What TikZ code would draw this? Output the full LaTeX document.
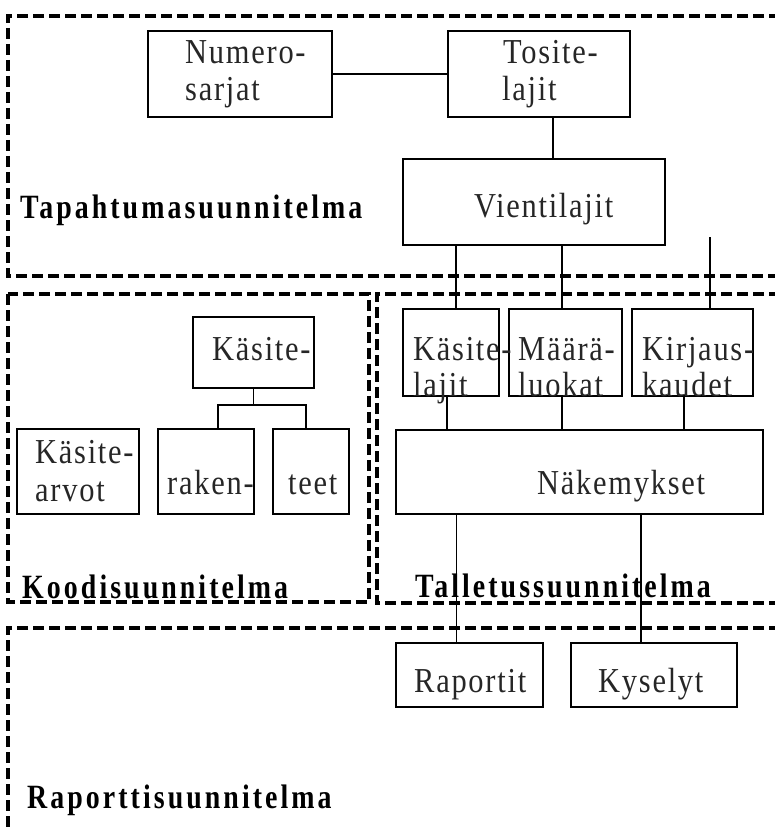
\documentclass[tikz,border=0pt]{standalone}
\usepackage{fontspec}
\setmainfont{Liberation Serif}
\newfontfamily\boxfontfam[LetterSpace=5,FakeStretch=0.87]{Liberation Serif}
\newcommand\boxfont{\boxfontfam\fontsize{35}{40}\selectfont}
\newfontfamily\labfontfam[LetterSpace=9,FakeStretch=0.82]{Liberation Serif}
\newcommand\labfont{\labfontfam\bfseries\fontsize{34}{40}\selectfont}
\tikzset{
  box/.style={draw, line width=1.5, inner sep=0, outer sep=0},
  txt/.style={anchor=base west, inner sep=0, font=\boxfont, text=black!85},
  lab/.style={anchor=base west, inner sep=0, font=\labfont},
  frame/.style={line width=3.2, dash pattern=on 11 off 5},
  link/.style={line width=1.5}
}
\begin{document}
\begin{tikzpicture}[x=1pt,y=-1pt]
\useasboundingbox (0,0) rectangle (775,829);
% frames
\draw[frame] (780,16) -- (8,16) -- (8,276) -- (780,276);
\draw[frame] (8,294) rectangle (369,602);
\draw[frame] (780,294) -- (377,294) -- (377,603) -- (780,603);
\draw[frame] (780,628) -- (8,628) -- (8,840);
% boxes
\node[box, minimum width=184, minimum height=86] (numero) at (240,74) {};
\node[box, minimum width=182, minimum height=86] (tosite) at (539,74) {};
\node[box, minimum width=262, minimum height=86] (vient) at (534,202) {};
\node[box, minimum width=121, minimum height=71] (kasy) at (253.5,352.5) {};
\node[box, minimum width=122, minimum height=85] (karv) at (78,471.5) {};
\node[box, minimum width=96, minimum height=85] (raken) at (206,471.5) {};
\node[box, minimum width=76, minimum height=85] (teet) at (311,471.5) {};
\node[box, minimum width=96, minimum height=87] (kasl) at (451,352.5) {};
\node[box, minimum width=113, minimum height=87] (maar) at (565.5,352.5) {};
\node[box, minimum width=121, minimum height=87] (kirj) at (692.5,352.5) {};
\node[box, minimum width=367, minimum height=84] (nak) at (579.5,472) {};
\node[box, minimum width=147, minimum height=64] (rap) at (469.5,675) {};
\node[box, minimum width=166, minimum height=64] (kys) at (654,675) {};
% texts
\node[txt] (t1a) at (185,64) {Numero-};
\node[txt] (t1b) at (185,101) {sarjat};
\node[txt] (t2a) at (503,64) {Tosite-};
\node[txt] (t2b) at (502,101) {lajit};
\node[txt] (t3) at (474,217) {Vientilajit};
\node[txt] (t4) at (212,360) {Käsite-};
\node[txt] (t5a) at (35,463) {Käsite-};
\node[txt] (t5b) at (35,501) {arvot};
\node[txt] (t6) at (167,494) {raken-};
\node[txt] (t7) at (288,494) {teet};
\node[txt] (t8a) at (413,360) {Käsite-};
\node[txt] (t8b) at (413,396) {lajit};
\node[txt] (t9a) at (518,360) {Määrä-};
\node[txt] (t9b) at (518,396) {luokat};
\node[txt] (t10a) at (642,360) {Kirjaus-};
\node[txt] (t10b) at (642,396) {kaudet};
\node[txt] (t11) at (537,494) {Näkemykset};
\node[txt] (t12) at (414,692) {Raportit};
\node[txt] (t13) at (598,692) {Kyselyt};
% frame labels
\node[lab] (l1) at (20,218) {Tapahtumasuunnitelma};
\node[lab] (l2) at (22,598) {Koodisuunnitelma};
\node[lab] (l3) at (415,597) {Talletussuunnitelma};
\node[lab] (l4) at (27,808) {Raporttisuunnitelma};
% connectors
\draw[link] (numero.east) -- (tosite.west);
\draw[link] ([xshift=14]tosite.south) -- ([xshift=14]tosite.south |- vient.north);
\draw[link] ([xshift=5]kasl.north |- vient.south) -- ([xshift=5]kasl.north);
\draw[link] ([xshift=-3.5]maar.north |- vient.south) -- ([xshift=-3.5]maar.north);
\coordinate (kfree) at (710,237);
\draw[link] (kfree) -- (kfree |- kirj.north);
\draw[link] ([xshift=-4]kasl.south) -- ([xshift=-4]kasl.south |- nak.north);
\draw[link] ([xshift=-3.5]maar.south) -- ([xshift=-3.5]maar.south |- nak.north);
\draw[link] ([xshift=-8.5]kirj.south) -- ([xshift=-8.5]kirj.south |- nak.north);
\draw[link] ([xshift=-13]rap.north |- nak.south) -- ([xshift=-13]rap.north);
\draw[link] ([xshift=-13]kys.north |- nak.south) -- ([xshift=-13]kys.north);
\draw[link] (kasy.south) -- ++(0,17) coordinate (kj);
\draw[link] ([xshift=12]raken.north) |- (kj) -| ([xshift=-5]teet.north);
\end{tikzpicture}
\end{document}
